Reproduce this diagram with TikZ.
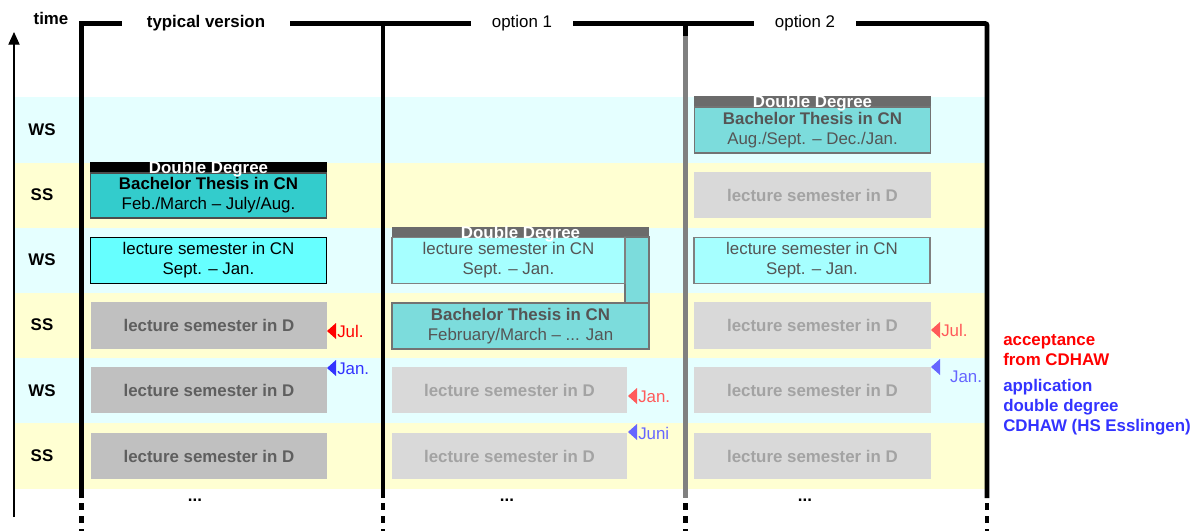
\documentclass[tikz,border=0pt]{standalone}
\usepackage{fontspec}
\setmainfont{Liberation Sans}
\usetikzlibrary{arrows.meta,positioning}

\definecolor{wsband}{HTML}{E5FFFF}
\definecolor{ssband}{HTML}{FFFFD2}
\definecolor{lecgray}{HTML}{C0C0C0}
\definecolor{lecgrayfade}{HTML}{D9D9D9}
\definecolor{lectext}{HTML}{5F5F5F}
\definecolor{lectextfade}{HTML}{A3A3A3}
\definecolor{cncyan}{HTML}{66FFFF}
\definecolor{cncyanfade}{HTML}{A6FFFF}
\definecolor{thesisteal}{HTML}{33CCCC}
\definecolor{thesistealfade}{HTML}{7CDCDC}
\definecolor{fadetext}{HTML}{555555}
\definecolor{ddgray}{HTML}{6B6B6B}
\definecolor{accred}{HTML}{FF0000}
\definecolor{accredfade}{HTML}{FF5A5A}
\definecolor{appblue}{HTML}{3333FF}
\definecolor{appbluefade}{HTML}{6666FF}

\tikzset{
  frame/.style = {line width=3.5pt, black},
  framedash/.style = {line width=3.5pt, black, dash pattern=on 5pt off 4.3pt},
  lecbox/.style = {rectangle, inner sep=0pt, minimum width=5.9cm,
                   minimum height=1.15cm, align=center},
  lecD/.style = {lecbox, fill=lecgray, text=lectext, font=\bfseries},
  lecDfade/.style = {lecbox, fill=lecgrayfade, text=lectextfade, font=\bfseries},
  lecCN/.style = {lecbox, fill=cncyan, draw=black, line width=0.8pt},
  lecCNfade/.style = {lecbox, fill=cncyanfade, draw=gray, text=fadetext, line width=0.8pt},
  thesis/.style = {lecbox, fill=thesisteal, draw=black!70, line width=0.8pt},
  thesisfade/.style = {lecbox, fill=thesistealfade, draw=gray!90!black, text=fadetext, line width=0.8pt},
  ddlabel/.style = {text=white, font=\bfseries, inner sep=0pt, yshift=-0.7pt},
  rowlabel/.style = {font=\bfseries},
  datelabel/.style = {anchor=west, inner sep=0pt}
}

\begin{document}
\begin{tikzpicture}[x=0.025cm, y=-0.025cm]
	\fontsize{12}{14.4}\selectfont
	\useasboundingbox (0,0) rectangle (1200,531);

	% Semester bands
	\fill[wsband] (15,97)  rectangle (985,163);
	\fill[ssband] (15,163) rectangle (985,228);
	\fill[wsband] (15,228) rectangle (985,293);
	\fill[ssband] (15,293) rectangle (985,358);
	\fill[wsband] (15,358) rectangle (985,423);
	\fill[ssband] (15,423) rectangle (985,489);

	% Time axis
	\draw[line width=0.8pt, -{Triangle[width=8pt,length=9pt]}] (14,517) -- (14,32);
	\node[font=\bfseries] (time) at (51,18) {time};

	% Semesters
	\node[rowlabel] (row1) at (42,130) {WS};
	\node[rowlabel] (row2) at (42,195) {SS};
	\node[rowlabel] (row3) at (42,260) {WS};
	\node[rowlabel] (row4) at (42,325) {SS};
	\node[rowlabel] (row5) at (42,391) {WS};
	\node[rowlabel] (row6) at (42,456) {SS};

	% Frame
	\draw[frame] (81.5,498) |- (122,23.5);
	\draw[frame] (290,23.5) -- (471,23.5);
	\draw[frame] (573,23.5) -- (754,23.5);
	\draw[frame, rounded corners=1.5pt] (856,23.5) -| (987,498);
	\draw[frame] (383,23.5) -- (383,498);
	\draw[frame] (685.5,23.5) -- (685.5,36);
	\draw[frame, color=gray] (685.5,36) -- (685.5,498);
	\draw[framedash] (81.5,503) -- (81.5,531);
	\draw[framedash] (383,503) -- (383,531);
	\draw[framedash] (685.5,503) -- (685.5,531);
	\draw[framedash] (987,503) -- (987,531);

	% Titles
	\node[font=\bfseries] (typ) at (206,23.5) {typical version};
	\node (opt1) at (522,23.5) {option 1};
	\node (opt2) at (805,23.5) {option 2};

	% Typical version
	\fill[black] (90,162) rectangle (327,173);
	\node[thesis, minimum height=1.125cm] (tThesis) at (208.5,195.5) {\textbf{Bachelor Thesis in CN}\\Feb./March – July/Aug.};
	\node[ddlabel] (tDD) at (208.5,168.5) {Double Degree};
	\node[lecCN] (tCN) at (208.5,260.5) {lecture semester in CN\\Sept. – Jan.};
	\node[lecD] (tD1) at (209,325.5) {lecture semester in D};
	\node[lecD] (tD2) at (209,390) {lecture semester in D};
	\node[lecD] (tD3) at (209,456) {lecture semester in D};
	\fill[accred] (327,331) -- (336,323) -- (336,339) -- cycle;
	\node[datelabel, text=accred] (tJul) at (337,331) {Jul.};
	\fill[appblue] (327,368) -- (336,360) -- (336,376) -- cycle;
	\node[datelabel, text=appblue] (tJan) at (337,369) {Jan.};
	\node[font=\bfseries] (tMore) at (195,500) {...};

	% Option 1
	\fill[ddgray] (392,227) rectangle (649,237);
	\draw[thesisfade, fill=thesistealfade] (625,237) rectangle (649,303);
	\node[lecCNfade, minimum width=5.825cm] (oaCN) at (508.5,260.5) {lecture semester in CN\\Sept. – Jan.};
	\node[ddlabel] (oaDD) at (520.5,233) {Double Degree};
	\node[thesisfade, minimum width=6.425cm] (oaThesis) at (520.5,326) {\textbf{Bachelor Thesis in CN}\\February/March – ... Jan};
	\node[lecDfade, minimum width=5.875cm] (oaD1) at (509.5,390) {lecture semester in D};
	\node[lecDfade, minimum width=5.875cm] (oaD2) at (509.5,456) {lecture semester in D};
	\fill[accredfade] (628,396) -- (637,388) -- (637,404) -- cycle;
	\node[datelabel, text=accredfade] (oaJan) at (638,397) {Jan.};
	\fill[appbluefade] (628,432) -- (637,424) -- (637,440) -- cycle;
	\node[datelabel, text=appbluefade] (oaJuni) at (638,433) {Juni};
	\node[font=\bfseries] (oaMore) at (507,500) {...};

	% Option 2
	\fill[ddgray] (694,96) rectangle (931,107);
	\node[thesisfade] (obThesis) at (812.5,130) {\textbf{Bachelor Thesis in CN}\\Aug./Sept. – Dec./Jan.};
	\node[ddlabel] (obDD) at (812.5,102) {Double Degree};
	\node[lecDfade] (obD0) at (812.5,195) {lecture semester in D};
	\node[lecCNfade] (obCN) at (812,260.5) {lecture semester in CN\\Sept. – Jan.};
	\node[lecDfade] (obD1) at (812.5,325.5) {lecture semester in D};
	\node[lecDfade] (obD2) at (812.5,390) {lecture semester in D};
	\node[lecDfade] (obD3) at (812.5,456) {lecture semester in D};
	\fill[accredfade] (931,330) -- (940,322) -- (940,338) -- cycle;
	\node[datelabel, text=accredfade] (obJul) at (941,330) {Jul.};
	\fill[appbluefade] (931,367) -- (940,359) -- (940,375) -- cycle;
	\node[text=appbluefade] (obJan) at (966,377) {Jan.};
	\node[font=\bfseries] (obMore) at (805,500) {...};

	% Legend
	\node[anchor=west, align=left, inner sep=0pt, text=accred, font=\bfseries] (acc) at (1003,350) {acceptance\\from CDHAW};
	\node[anchor=west, align=left, inner sep=0pt, text=appblue, font=\bfseries] (app) at (1003,407) {application\\double degree\\CDHAW (HS Esslingen)};

\end{tikzpicture}
\end{document}
